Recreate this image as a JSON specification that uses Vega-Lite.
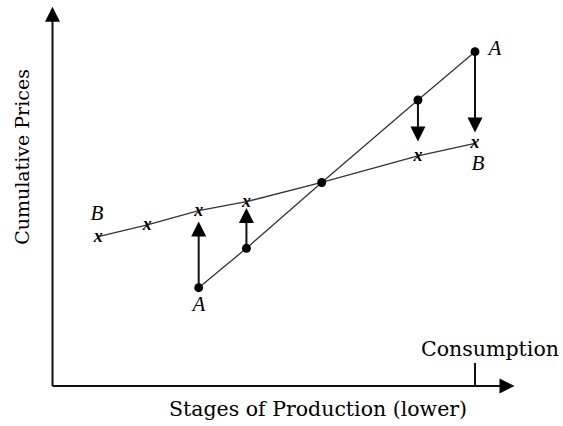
{
  "$schema": "https://vega.github.io/schema/vega-lite/v6.json",
  "width": 563,
  "height": 426,
  "padding": 0,
  "autosize": {"type": "fit", "contains": "padding"},
  "background": "white",
  "config": {"view": {"stroke": null}},
  "datasets": {
    "lines": [
      {"series": "A", "x": 3.46, "y": 2.934},
      {"series": "A", "x": 4.59, "y": 4.11},
      {"series": "A", "x": 6.372, "y": 6.075},
      {"series": "A", "x": 8.65, "y": 8.537},
      {"series": "A", "x": 10.0, "y": 9.979},
      {"series": "B", "x": 1.084, "y": 4.457},
      {"series": "B", "x": 2.244, "y": 4.806},
      {"series": "B", "x": 3.46, "y": 5.233},
      {"series": "B", "x": 4.59, "y": 5.501},
      {"series": "B", "x": 6.372, "y": 6.075},
      {"series": "B", "x": 8.65, "y": 6.866},
      {"series": "B", "x": 10.0, "y": 7.245}
    ],
    "axes": [
      {"x": 0, "y": 0, "x2": 0, "y2": 10.925},
      {"x": 0, "y": 0, "x2": 10.59, "y2": 0},
      {"x": 10, "y": 0, "x2": 10, "y2": 0.687}
    ],
    "arrows": [
      {"x": 3.46, "y": 2.934, "y2": 4.687},
      {"x": 4.59, "y": 4.11, "y2": 5.09},
      {"x": 8.65, "y": 8.537, "y2": 7.522},
      {"x": 10.0, "y": 9.979, "y2": 7.791}
    ],
    "heads": [
      {"x": 3.46, "y": 4.687, "dir": "up"},
      {"x": 4.59, "y": 5.09, "dir": "up"},
      {"x": 8.65, "y": 7.522, "dir": "down"},
      {"x": 10.0, "y": 7.791, "dir": "down"},
      {"x": 0, "y": 11.1, "dir": "up"},
      {"x": 10.757, "y": 0, "dir": "right"}
    ],
    "labels": [
      {"x": 1.053, "y": 5.134, "text": "B"},
      {"x": 3.467, "y": 2.418, "text": "A"},
      {"x": 10.473, "y": 10.045, "text": "A"},
      {"x": 10.071, "y": 6.62, "text": "B"}
    ],
    "titles": [
      {"x": 10.355, "y": 0.896, "text": "Consumption"},
      {"x": 6.284, "y": -0.896, "text": "Stages of Production (lower)"}
    ],
    "ytitle": [
      {"x": -0.698, "y": 6.836, "text": "Cumulative Prices"}
    ]
  },
  "layer": [
    {
      "data": {"name": "axes"},
      "mark": {"type": "rule", "color": "#111", "strokeWidth": 2},
      "encoding": {
        "x": {"field": "x", "type": "quantitative", "scale": {"domain": [-1.2426, 12.083], "nice": false, "zero": false}, "axis": null},
        "y": {"field": "y", "type": "quantitative", "scale": {"domain": [-1.194, 11.522], "nice": false, "zero": false}, "axis": null},
        "x2": {"field": "x2"},
        "y2": {"field": "y2"}
      }
    },
    {
      "data": {"name": "lines"},
      "mark": {"type": "line", "color": "#333", "strokeWidth": 1.3},
      "encoding": {
        "x": {"field": "x", "type": "quantitative"},
        "y": {"field": "y", "type": "quantitative"},
        "detail": {"field": "series"}
      }
    },
    {
      "data": {"name": "arrows"},
      "mark": {"type": "rule", "color": "#111", "strokeWidth": 2},
      "encoding": {
        "x": {"field": "x", "type": "quantitative"},
        "y": {"field": "y", "type": "quantitative"},
        "y2": {"field": "y2"}
      }
    },
    {
      "data": {"name": "heads"},
      "mark": {"type": "point", "filled": true, "color": "#000", "opacity": 1, "size": 225},
      "encoding": {
        "x": {"field": "x", "type": "quantitative"},
        "y": {"field": "y", "type": "quantitative"},
        "shape": {"field": "dir", "type": "nominal", "legend": null,
          "scale": {"domain": ["up", "down", "right"], "range": ["M0,-1L-1,1L1,1Z", "M0,1L-1,-1L1,-1Z", "M1,0L-1,-1L-1,1Z"]}}
      }
    },
    {
      "data": {"name": "lines"},
      "transform": [{"filter": "datum.series == 'A'"}],
      "mark": {"type": "circle", "color": "#000", "opacity": 1, "size": 80},
      "encoding": {
        "x": {"field": "x", "type": "quantitative"},
        "y": {"field": "y", "type": "quantitative"}
      }
    },
    {
      "data": {"name": "lines"},
      "transform": [{"filter": "datum.series == 'B' && datum.x != 6.372"}],
      "mark": {"type": "text", "text": "x", "font": "Liberation Serif", "fontStyle": "italic", "fontWeight": "bold", "fontSize": 18, "color": "#000", "baseline": "middle", "align": "center", "dy": 0},
      "encoding": {
        "x": {"field": "x", "type": "quantitative"},
        "y": {"field": "y", "type": "quantitative"}
      }
    },
    {
      "data": {"name": "labels"},
      "mark": {"type": "text", "font": "Liberation Serif", "fontStyle": "italic", "fontSize": 21, "color": "#000", "baseline": "middle", "align": "center"},
      "encoding": {
        "x": {"field": "x", "type": "quantitative"},
        "y": {"field": "y", "type": "quantitative"},
        "text": {"field": "text"}
      }
    },
    {
      "data": {"name": "titles"},
      "mark": {"type": "text", "font": "DejaVu Serif", "fontSize": 20.5, "color": "#000", "baseline": "alphabetic", "align": "center"},
      "encoding": {
        "x": {"field": "x", "type": "quantitative"},
        "y": {"field": "y", "type": "quantitative"},
        "text": {"field": "text"}
      }
    },
    {
      "data": {"name": "ytitle"},
      "mark": {"type": "text", "font": "DejaVu Serif", "fontSize": 19, "color": "#000", "baseline": "middle", "align": "center", "angle": 270},
      "encoding": {
        "x": {"field": "x", "type": "quantitative"},
        "y": {"field": "y", "type": "quantitative"},
        "text": {"field": "text"}
      }
    }
  ]
}
